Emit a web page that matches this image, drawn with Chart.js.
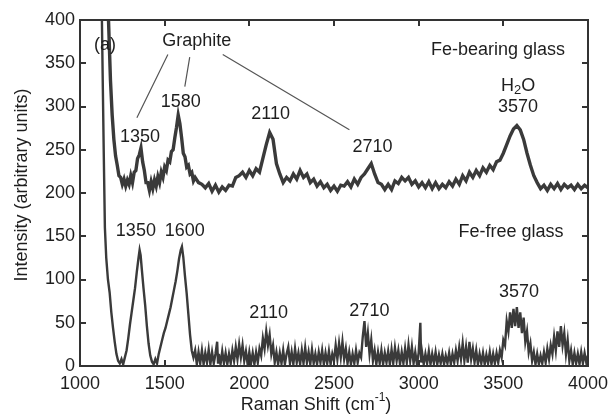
<!DOCTYPE html>
<html>
<head>
<meta charset="utf-8">
<script src="https://cdn.jsdelivr.net/npm/chart.js@4/dist/chart.umd.min.js"></script>
<style>
html,body{margin:0;padding:0;background:#fff;}
#wrap{width:615px;height:420px;position:relative;}
</style>
</head>
<body>
<div id="wrap"><canvas id="c" width="615" height="420"></canvas></div>
<script>
// ---- Data ----
const shiftFeBearing = [1165,1180,1190,
1200,1210,1220,1230,1240,1250,1260,1270,1280,1290,
1300,1310,1320,1330,1340,1350,1360,1370,1380,1390,
1400,1410,1420,1430,1440,1450,1460,1470,1480,1490,
1500,1510,1520,1530,1540,1550,1560,1570,1580,1590,
1600,1610,1620,1630,1640,1650,1660,1670,1680,
1700,1720,1740,1760,1780,1800,1820,1840,1860,1880,
1900,1920,1940,1960,1980,2000,2020,2040,2060,2080,
2100,2120,2140,2160,2180,2200,2220,2240,2260,2280,
2300,2320,2340,2360,2380,2400,2420,2440,2460,2480,
2500,2520,2540,2560,2580,2600,2620,2640,2660,2680,
2700,2720,2740,2760,2780,2800,2820,2840,2860,2880,
2900,2920,2940,2960,2980,3000,3020,3040,3060,3080,
3100,3120,3140,3160,3180,3200,3220,3240,3260,3280,
3300,3320,3340,3360,3380,3400,3420,3440,3460,3480,
3500,3520,3540,3560,3580,3600,3620,3640,3660,3680,
3700,3720,3740,3760,3780,3800,3820,3840,3860,3880,
3900,3920,3940,3960,3980,4000];
const intensityFeBearing = [420,330,290,
262,243,232,220,218,210,216,208,215,210,
220,212,224,226,240,244,252,236,226,212,
212,203,213,205,215,208,219,212,224,218,
230,226,238,236,248,250,264,276,290,280,
264,246,242,230,232,222,224,214,218,
212,210,206,211,202,209,201,207,203,209,
208,218,220,224,218,226,220,228,224,240,
256,270,262,234,222,212,218,214,222,216,
226,218,222,212,216,208,213,206,210,203,
208,202,209,208,213,207,216,210,218,222,
228,234,222,212,210,204,210,204,214,211,
218,214,218,210,214,207,212,206,213,205,
212,205,210,206,213,208,216,210,220,214,
224,218,226,220,229,224,232,227,236,238,
246,256,266,274,278,273,262,246,232,220,
212,205,209,203,210,205,211,204,210,206,
209,204,210,205,209,206];

const shiftFeFree = [1128,1135,1140,1147,1155,
1165,1175,1185,1195,1205,1215,1225,1235,1245,1255,1265,1275,1285,1295,1305,1315,1325,1335,1345,
1352,1358,
1365,1375,1385,1395,1405,1415,1425,1435,1445,1455,1465,1475,1485,1495,1505,1515,1525,1535,1545,1555,1565,1575,1585,1595,
1602,
1610,1620,1630,1640,1650,1660,
1670,1680,1690,1700,1710,1720,1730,1740,1750,1760,1770,1780,1790,1800,
1810,1815,1820,
1830,1840,1850,1860,1870,1880,1890,1900,
1910,1920,1930,1940,1950,1960,1970,1980,1990,2000,
2010,2020,2030,2040,2050,2060,2070,2080,2090,2100,
2110,2120,2130,2140,2150,2160,2170,2180,2190,2200,
2210,2220,2230,2240,2250,2260,2270,2280,2290,2300,
2310,2320,2330,2340,2350,2360,2370,2380,2390,2400,
2410,2420,2430,2440,2450,2460,2470,2480,2490,2500,
2510,2520,2530,2540,2550,2560,2570,2580,2590,2600,
2610,2620,2630,2640,2650,2660,2670,2680,2690,2700,
2710,2720,2730,2740,2750,2760,2770,2780,2790,2800,
2810,2820,2830,2840,2850,2860,2870,2880,2890,2900,
2910,2920,2930,2940,2950,2960,2970,2980,2990,3000,
3010,3015,
3020,3030,3040,3050,3060,3070,3080,3090,3100,
3110,3120,3130,3140,3150,3160,3170,3180,3190,3200,
3210,3220,3230,3240,3250,3260,3270,3280,3290,3300,
3310,3320,3330,3340,3350,3360,3370,3380,3390,3400,
3410,3420,3430,3440,3450,3460,3470,3480,3490,3500,
3510,3520,3530,3540,3550,3560,3570,3580,3590,3600,
3610,3620,3630,3640,3650,3660,3670,3680,3690,3700,
3710,3720,3730,3740,3750,3760,3770,3780,3790,3800,
3810,3820,3830,3840,3850,3860,3870,3880,3890,3900,
3910,3920,3930,3940,3950,3960,3970,3980,3990,4000];
const intensityFeFree = [420,320,250,160,125,
100,85,62,44,28,14,6,3,8,2,10,18,32,48,62,76,90,108,124,
134,128,
112,90,70,46,26,12,5,2,8,3,14,22,30,38,44,52,60,68,78,88,98,110,124,134,
138,
126,104,84,60,36,18,
10,18,2,16,3,18,2,15,4,19,2,16,3,14,
28,4,14,
2,17,3,15,2,14,3,18,
6,22,8,25,10,24,6,17,2,16,
3,15,2,16,4,20,12,32,20,40,
24,36,14,24,4,16,2,15,3,18,
2,14,22,3,16,2,20,4,15,2,
18,3,21,4,16,2,19,3,14,2,
16,4,18,2,15,3,17,2,14,6,
24,8,26,10,28,8,20,3,16,2,
14,3,18,4,15,10,34,52,22,38,
14,30,6,18,2,16,3,18,2,15,
4,17,2,19,3,21,6,18,2,16,
3,20,4,24,6,22,3,16,2,15,
50,4,
16,2,14,3,17,2,14,3,16,
2,13,3,14,2,12,3,15,2,14,
4,18,6,22,8,26,6,22,4,28,
8,20,4,18,2,14,3,15,2,13,
3,16,2,14,3,15,4,18,10,30,
24,52,40,62,44,66,46,68,44,62,
38,56,28,40,16,26,6,16,2,14,
2,12,3,16,4,20,8,24,14,34,
18,40,22,46,24,38,14,30,6,18,
2,15,3,14,2,16,3,15,4,12];

const xTicks = [1000,1500,2000,2500,3000,3500,4000];
const yTicks = [0,50,100,150,200,250,300,350,400];

// ---- Annotations (in data coordinates) ----
const textLabels = [
  {t:'(a)', x:1147, y:371},
  {t:'Graphite', x:1690, y:376},
  {t:'1350', x:1354, y:265},
  {t:'1580', x:1595, y:305},
  {t:'2110', x:2126, y:291},
  {t:'2710', x:2727, y:253},
  {t:'3570', x:3587, y:299},
  {t:'Fe-bearing glass', x:3469, y:365},
  {t:'1350', x:1330, y:156},
  {t:'1600', x:1619, y:156},
  {t:'2110', x:2114, y:61},
  {t:'2710', x:2709, y:64},
  {t:'3570', x:3593, y:86},
  {t:'Fe-free glass', x:3546, y:155}
];
const pointerLines = [
  [1519,360,1336,287],
  [1648,357,1619,323],
  [1843,360,2591,273]
];

const FONT = '"Liberation Sans", Arial, sans-serif';
const TXT = '#1e1e1e';

const pairs = (xs, ys) => xs.map((x,i)=>({x:x, y:ys[i]}));

const decor = {
  id:'decor',
  afterDraw(chart){
    const ctx = chart.ctx;
    const xs = chart.scales.x, ys = chart.scales.y;
    const L = Math.round(xs.getPixelForValue(1000));
    const R = Math.round(xs.getPixelForValue(4000));
    const T = Math.round(ys.getPixelForValue(400));
    const B = Math.round(ys.getPixelForValue(0));
    ctx.save();
    // frame and inward ticks
    ctx.fillStyle = '#333333';
    ctx.fillRect(L-1, T-1, R-L+2, 2);
    ctx.fillRect(L-1, B-1, R-L+2, 2);
    ctx.fillRect(L-1, T-1, 2, B-T+2);
    ctx.fillRect(R-1, T-1, 2, B-T+2);
    xTicks.forEach(v=>{
      const px = Math.round(xs.getPixelForValue(v));
      ctx.fillRect(px-1, B-6, 2, 6);
      ctx.fillRect(px-1, T, 2, 6);
    });
    yTicks.forEach(v=>{
      const py = Math.round(ys.getPixelForValue(v));
      ctx.fillRect(L, py-1, 6, 2);
      ctx.fillRect(R-6, py-1, 6, 2);
    });
    // pointer lines
    ctx.strokeStyle = '#555';
    ctx.lineWidth = 1.2;
    ctx.beginPath();
    pointerLines.forEach(l=>{
      ctx.moveTo(xs.getPixelForValue(l[0]), ys.getPixelForValue(l[1]));
      ctx.lineTo(xs.getPixelForValue(l[2]), ys.getPixelForValue(l[3]));
    });
    ctx.stroke();
    // labels
    ctx.fillStyle = TXT;
    ctx.font = '18px ' + FONT;
    ctx.textAlign = 'center';
    ctx.textBaseline = 'middle';
    textLabels.forEach(l=>{
      ctx.fillText(l.t, xs.getPixelForValue(l.x), ys.getPixelForValue(l.y));
    });
    // H2O with subscript
    {
      const cx = xs.getPixelForValue(3587), cy = ys.getPixelForValue(324);
      ctx.font = '18px ' + FONT;
      const wH = ctx.measureText('H').width, wO = ctx.measureText('O').width;
      ctx.font = '13px ' + FONT;
      const w2 = ctx.measureText('2').width;
      let x0 = cx - (wH + w2 + wO)/2;
      ctx.textAlign = 'left';
      ctx.font = '18px ' + FONT;
      ctx.fillText('H', x0, cy);
      ctx.font = '13px ' + FONT;
      ctx.fillText('2', x0+wH, cy+5);
      ctx.font = '18px ' + FONT;
      ctx.fillText('O', x0+wH+w2, cy);
    }
    // x axis title with superscript
    {
      const main = 'Raman Shift (cm', sup = '-1', end = ')';
      ctx.font = '18px ' + FONT;
      const wM = ctx.measureText(main).width, wE = ctx.measureText(end).width;
      ctx.font = '12px ' + FONT;
      const wS = ctx.measureText(sup).width;
      const cx = 316, cy = 405;
      let x0 = cx - (wM+wS+wE)/2;
      ctx.textAlign = 'left';
      ctx.font = '18px ' + FONT;
      ctx.fillText(main, x0, cy);
      ctx.font = '12px ' + FONT;
      ctx.fillText(sup, x0+wM, cy-7);
      ctx.font = '18px ' + FONT;
      ctx.fillText(end, x0+wM+wS, cy);
    }
    // y axis title
    ctx.translate(22, 185);
    ctx.rotate(-Math.PI/2);
    ctx.textAlign = 'center';
    ctx.font = '18px ' + FONT;
    ctx.fillText('Intensity (arbitrary units)', 0, 0);
    ctx.restore();
  }
};

new Chart(document.getElementById('c'), {
  type:'scatter',
  data:{
    datasets:[
      {label:'Fe-bearing glass', data:pairs(shiftFeBearing,intensityFeBearing), showLine:true, borderColor:'#3a3a3a', borderWidth:3.4, pointRadius:0, tension:0},
      {label:'Fe-free glass', data:pairs(shiftFeFree,intensityFeFree), showLine:true, borderColor:'#3a3a3a', borderWidth:2.4, pointRadius:0, tension:0}
    ]
  },
  options:{
    responsive:false,
    animation:false,
    layout:{padding:{top:20,right:26,left:0,bottom:0}},
    plugins:{legend:{display:false}, tooltip:{enabled:false}},
    scales:{
      x:{
        type:'linear', min:1000, max:4000,
        afterBuildTicks(s){ s.ticks = xTicks.map(v=>({value:v})); },
        afterFit(s){ s.height = 54; },
        grid:{display:false, drawTicks:false},
        border:{display:false},
        ticks:{padding:7, color:TXT, font:{family:FONT, size:18}, maxRotation:0, callback:v=>String(v)},
        title:{display:false}
      },
      y:{
        type:'linear', min:0, max:400,
        afterBuildTicks(s){ s.ticks = yTicks.map(v=>({value:v})); },
        afterFit(s){ s.width = 80; },
        grid:{display:false, drawTicks:false},
        border:{display:false},
        ticks:{padding:5, color:TXT, font:{family:FONT, size:18}, callback:v=>String(v)},
        title:{display:false}
      }
    }
  },
  plugins:[decor]
});
</script>
</body>
</html>
